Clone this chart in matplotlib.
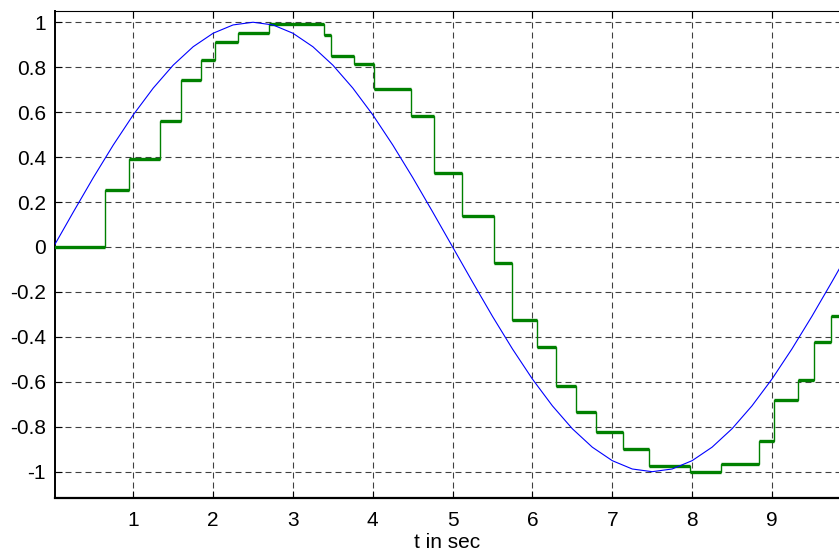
import matplotlib
matplotlib.use('Agg')
import matplotlib.pyplot as plt

plt.rcParams['font.family'] = ['Liberation Sans', 'DejaVu Sans']
plt.rcParams['axes.unicode_minus'] = False
plt.rcParams['lines.scale_dashes'] = False

# blue reference curve, every 0.25 s
t_ref = [0.0, 0.25, 0.5, 0.75, 1.0, 1.25, 1.5, 1.75, 2.0, 2.25, 2.5, 2.75,
         3.0, 3.25, 3.5, 3.75, 4.0, 4.25, 4.5, 4.75, 5.0, 5.25, 5.5, 5.75,
         6.0, 6.25, 6.5, 6.75, 7.0, 7.25, 7.5, 7.75, 8.0, 8.25, 8.5, 8.75,
         9.0, 9.25, 9.5, 9.75, 10.0]
y_ref = [0.0, 0.156, 0.309, 0.454, 0.588, 0.707, 0.809, 0.891, 0.951, 0.988,
         1.0, 0.988, 0.951, 0.891, 0.809, 0.707, 0.588, 0.454, 0.309, 0.156,
         0.0, -0.156, -0.309, -0.454, -0.588, -0.707, -0.809, -0.891, -0.951,
         -0.988, -1.0, -0.988, -0.951, -0.891, -0.809, -0.707, -0.588, -0.454,
         -0.309, -0.156, 0.0]

# green sample-and-hold output
step_edges = [0.0, 0.65, 0.95, 1.34, 1.60, 1.85, 2.02, 2.31, 2.70,
              3.39, 3.48, 3.76, 4.01, 4.48, 4.77, 5.12, 5.52,
              5.74, 6.06, 6.30, 6.54, 6.79, 7.13, 7.46, 7.97,
              8.36, 8.84, 9.02, 9.33, 9.53, 9.74, 9.9]
step_levels = [0.0, 0.255, 0.39, 0.56, 0.745, 0.83, 0.91, 0.95, 0.99,
               0.945, 0.85, 0.815, 0.705, 0.585, 0.33, 0.14,
               -0.07, -0.325, -0.445, -0.62, -0.735, -0.825, -0.90, -0.975,
               -1.0, -0.965, -0.865, -0.68, -0.59, -0.425, -0.305]

x_ticks = [1, 2, 3, 4, 5, 6, 7, 8, 9]
y_ticks = [-1.0, -0.8, -0.6, -0.4, -0.2, 0.0, 0.2, 0.4, 0.6, 0.8, 1.0]
y_labels = ['-1', '-0.8', '-0.6', '-0.4', '-0.2', '0', '0.2', '0.4', '0.6', '0.8', '1']

fig = plt.figure(figsize=(8.39, 5.53), dpi=100)
ax = fig.add_axes([0.0656, 0.0995, 0.9344, 0.8806])

ax.stairs(step_levels, step_edges, color='#008000', lw=1.0, baseline=None, zorder=3)
ax.hlines(step_levels, step_edges[:-1], step_edges[1:], color='#008000', lw=2.4, zorder=3)
ax.plot(t_ref, y_ref, color='#0000ff', lw=0.8, zorder=4)

ax.set_xlim(0.02, 9.84)
ax.set_ylim(-1.117, 1.05)
ax.set_xticks(x_ticks)
ax.set_yticks(y_ticks)
ax.set_yticklabels(y_labels)
ax.tick_params(direction='in', length=5, width=0.8, labelsize=15, top=True)
ax.tick_params(axis='y', pad=6.5)
ax.tick_params(axis='x', pad=9.5)
ax.grid(True, color='black', linestyle=(0, (4.3, 2.9)), lw=0.8, alpha=0.75)
ax.spines['right'].set_visible(False)
ax.spines['left'].set_linewidth(1.4)
ax.spines['bottom'].set_linewidth(1.6)
ax.spines['top'].set_linewidth(0.8)
ax.set_xlabel('t in sec', fontsize=15, labelpad=2)

fig.savefig('out.png', dpi=100)
